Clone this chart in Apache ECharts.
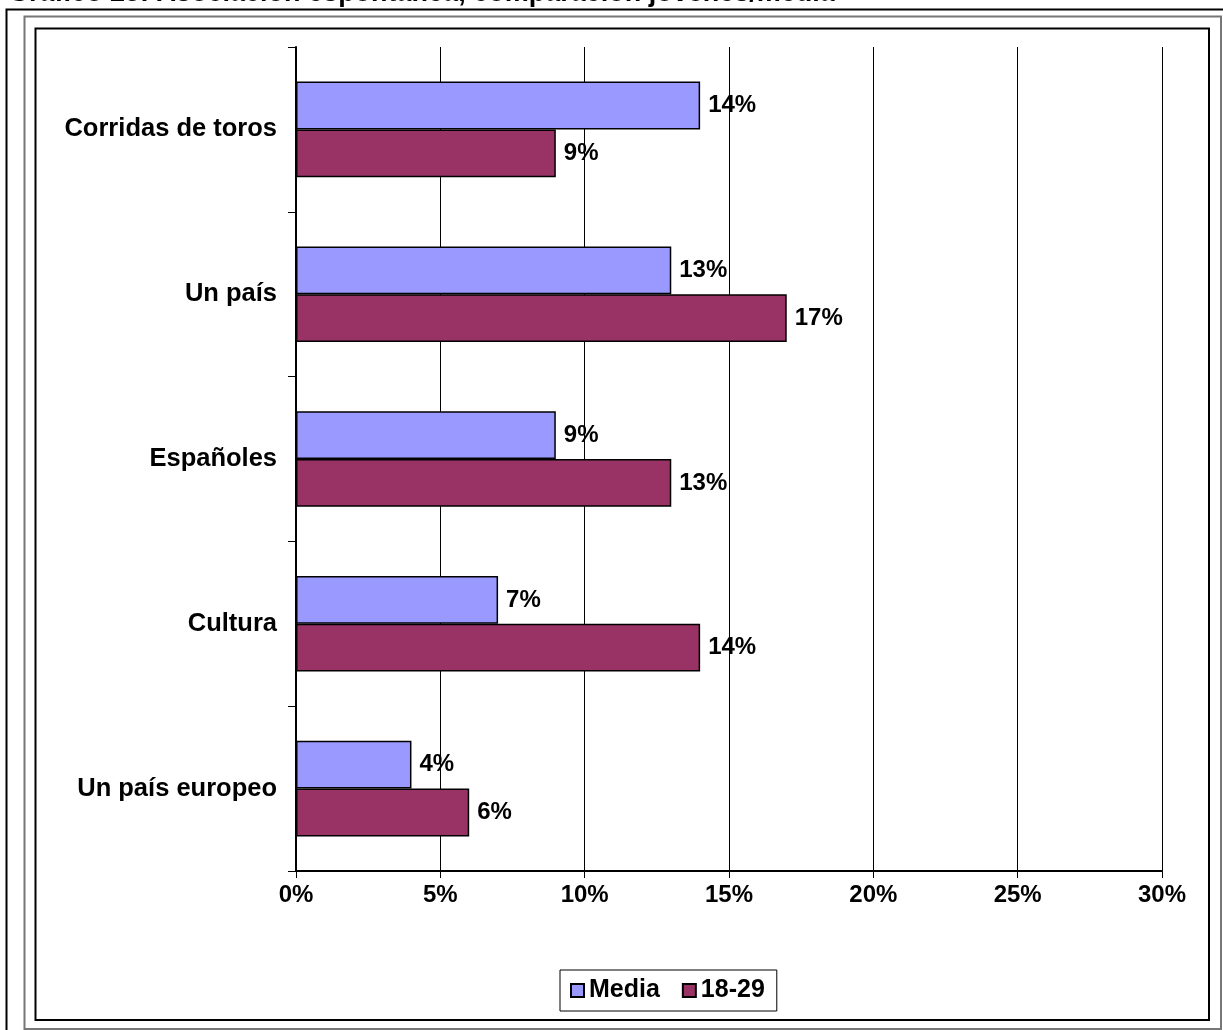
<!DOCTYPE html>
<html>
<head>
<meta charset="utf-8">
<title>Gráfico 25</title>
<script src="https://cdn.jsdelivr.net/npm/echarts@6/dist/echarts.min.js"></script>
<style>
  html, body { margin: 0; padding: 0; background: #ffffff; }
  #chart { width: 1223px; height: 1030px; }
</style>
</head>
<body>
<div id="chart"></div>
<script>
// Spontaneous association: young people (18-29) versus the overall average
const categories = ['Corridas de toros', 'Un país', 'Españoles', 'Cultura', 'Un país europeo'];
const mediaValues = [14, 13, 9, 7, 4];
const jovenesValues = [9, 17, 13, 14, 6];
const xTicks = [0, 5, 10, 15, 20, 25, 30];
const seriesNames = ['Media', '18-29'];
const titleText = 'Gráfico 25: Asociación espontánea, comparación jóvenes/media';

const FONT = '"Liberation Sans", Arial, sans-serif';
const chart = echarts.init(document.getElementById('chart'), null, { renderer: 'canvas' });

const labelStyle = {
  show: true,
  position: 'right',
  distance: 8,
  formatter: p => p.value + '%',
  color: '#000',
  fontFamily: FONT,
  fontWeight: 'bold',
  fontSize: 24
};

chart.setOption({
  animation: false,
  backgroundColor: '#ffffff',
  textStyle: { fontFamily: FONT },
  graphic: [
    { type: 'text', left: 8, top: -20, style: { text: titleText, font: 'bold 27px ' + FONT, fill: '#000' } },
    { type: 'rect', shape: { x: 6.5, y: 9.5, width: 1240, height: 1040 }, style: { fill: 'none', stroke: '#000', lineWidth: 2 } },
    { type: 'rect', shape: { x: 24.5, y: 16.5, width: 1196.5, height: 1012.5 }, style: { fill: 'none', stroke: '#777', lineWidth: 2 } },
    { type: 'rect', shape: { x: 35.5, y: 28.5, width: 1173.5, height: 991.5 }, style: { fill: 'none', stroke: '#000', lineWidth: 2 } }
  ],
  grid: { left: 296, top: 47, right: 61, bottom: 159, containLabel: false },
  legend: {
    data: seriesNames,
    left: 560,
    top: 970,
    padding: [8, 12, 8, 10],
    itemGap: 22,
    itemWidth: 13,
    itemHeight: 13,
    icon: 'rect',
    borderColor: '#000',
    borderWidth: 1,
    textStyle: { color: '#000', fontFamily: FONT, fontWeight: 'bold', fontSize: 25, padding: [0, 0, 0, 0] }
  },
  xAxis: {
    type: 'value',
    min: xTicks[0],
    max: xTicks[xTicks.length - 1],
    interval: xTicks[1] - xTicks[0],
    axisLine: { show: true, lineStyle: { color: '#000', width: 2 } },
    axisTick: { show: true, length: 7, lineStyle: { color: '#000', width: 1 } },
    splitLine: { show: true, lineStyle: { color: '#000', width: 1 } },
    axisLabel: { formatter: '{value}%', color: '#000', fontFamily: FONT, fontWeight: 'bold', fontSize: 24, margin: 12 }
  },
  yAxis: {
    type: 'category',
    inverse: true,
    data: categories,
    axisLine: { show: true, lineStyle: { color: '#000', width: 2 } },
    axisTick: { show: true, length: 8, lineStyle: { color: '#000', width: 1 } },
    splitLine: { show: false },
    axisLabel: { color: '#000', fontFamily: FONT, fontWeight: 'bold', fontSize: 25.5, margin: 19 }
  },
  series: [
    {
      name: seriesNames[0],
      type: 'bar',
      data: mediaValues,
      barGap: '0%',
      barCategoryGap: '42%',
      itemStyle: { color: '#9999FF', borderColor: '#000', borderWidth: 1.5 },
      label: labelStyle
    },
    {
      name: seriesNames[1],
      type: 'bar',
      data: jovenesValues,
      barGap: '0%',
      barCategoryGap: '42%',
      itemStyle: { color: '#993366', borderColor: '#000', borderWidth: 1.5 },
      label: labelStyle
    }
  ]
});
</script>
</body>
</html>
